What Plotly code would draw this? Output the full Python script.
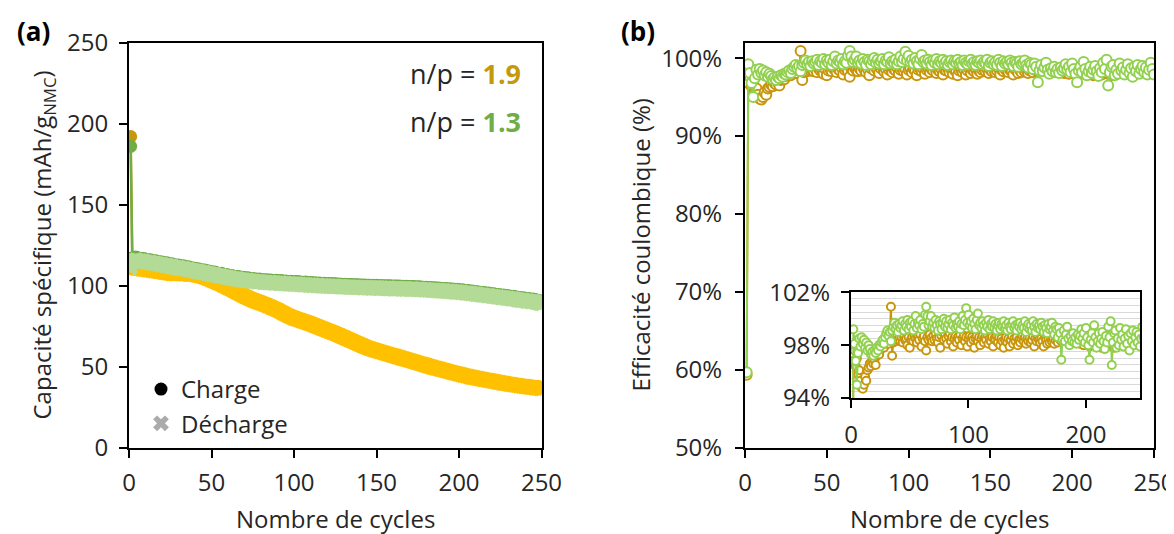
import plotly.graph_objects as go

# ---------------- data ----------------
cycles = list(range(1, 251))

# n/p = 1.9 : specific capacity (mAh/g NMC)
cap_charge_np19 = [
    192.0, 115.3, 115.6, 115.9, 116.0, 116.2, 115.8, 116.0, 116.1, 115.8,
    115.5, 115.2, 115.0, 114.6, 114.2, 113.8, 113.2, 112.7, 112.3, 111.9,
    111.6, 111.2, 110.9, 110.6, 110.2, 109.9, 109.8, 109.4, 109.3, 109.2,
    109.2, 109.2, 109.0, 106.6, 110.8, 108.9, 108.7, 108.4, 108.2, 108.0,
    107.8, 107.5, 107.3, 107.0, 106.7, 106.4, 106.0, 105.6, 105.2, 104.7,
    104.3, 103.9, 103.4, 103.0, 102.5, 102.0, 101.5, 101.0, 100.5, 100.0,
    99.5, 99.0, 98.4, 97.9, 97.4, 96.9, 96.3, 95.8, 95.2, 94.6,
    94.1, 93.7, 93.2, 92.7, 92.3, 91.9, 91.5, 91.1, 90.8, 90.4,
    90.0, 89.6, 89.2, 88.8, 88.4, 87.9, 87.4, 86.9, 86.5, 86.0,
    85.5, 84.9, 84.4, 83.8, 83.3, 82.8, 82.3, 81.9, 81.4, 81.0,
    80.7, 80.3, 80.0, 79.6, 79.3, 78.9, 78.6, 78.2, 77.9, 77.5,
    77.1, 76.7, 76.3, 75.8, 75.4, 75.0, 74.6, 74.2, 73.8, 73.4,
    73.0, 72.6, 72.2, 71.8, 71.4, 71.0, 70.5, 70.1, 69.6, 69.2,
    68.7, 68.3, 67.8, 67.4, 66.9, 66.5, 66.0, 65.5, 65.0, 64.6,
    64.1, 63.7, 63.3, 62.8, 62.4, 62.1, 61.8, 61.4, 61.1, 60.8,
    60.5, 60.2, 59.9, 59.5, 59.2, 58.9, 58.6, 58.3, 58.0, 57.7,
    57.4, 57.1, 56.8, 56.5, 56.2, 55.9, 55.6, 55.3, 55.0, 54.7,
    54.4, 54.1, 53.8, 53.5, 53.2, 52.9, 52.6, 52.3, 52.0, 51.7,
    51.4, 51.1, 50.8, 50.5, 50.2, 49.9, 49.7, 49.4, 49.2, 48.9,
    48.6, 48.3, 48.1, 47.8, 47.5, 47.2, 47.0, 46.7, 46.5, 46.2,
    46.0, 45.7, 45.5, 45.2, 45.0, 44.8, 44.5, 44.3, 44.1, 43.9,
    43.7, 43.5, 43.3, 43.1, 42.9, 42.7, 42.5, 42.3, 42.2, 42.0,
    41.8, 41.6, 41.4, 41.2, 41.0, 40.8, 40.6, 40.5, 40.3, 40.1,
    39.9, 39.8, 39.6, 39.5, 39.3, 39.2, 39.0, 38.9, 38.7, 38.6,
    38.5, 38.3, 38.2, 38.1, 37.9, 37.8, 37.7, 37.6, 37.4, 37.3,
]
cap_discharge_np19 = [
    114.0, 111.5, 111.2, 111.0, 110.8, 110.7, 110.4, 110.3, 110.2, 110.0,
    109.8, 109.9, 109.6, 109.4, 109.3, 109.2, 108.9, 108.8, 108.7, 108.5,
    108.3, 108.2, 108.0, 107.9, 107.7, 107.5, 107.6, 107.4, 107.5, 107.5,
    107.6, 107.7, 107.5, 107.7, 107.6, 107.4, 107.3, 107.1, 107.0, 106.8,
    106.6, 106.3, 106.1, 105.8, 105.5, 105.2, 104.8, 104.4, 104.0, 103.5,
    103.1, 102.7, 102.2, 101.8, 101.3, 100.8, 100.3, 99.8, 99.3, 98.8,
    98.3, 97.8, 97.2, 96.7, 96.2, 95.7, 95.1, 94.6, 94.0, 93.5,
    93.0, 92.6, 92.1, 91.6, 91.2, 90.8, 90.4, 90.0, 89.7, 89.3,
    88.9, 88.5, 88.1, 87.7, 87.3, 86.8, 86.4, 85.9, 85.5, 85.0,
    84.5, 83.9, 83.4, 82.8, 82.3, 81.8, 81.3, 80.9, 80.4, 80.0,
    79.7, 79.3, 79.0, 78.6, 78.3, 77.9, 77.6, 77.2, 76.9, 76.5,
    76.1, 75.7, 75.3, 74.9, 74.5, 74.1, 73.7, 73.3, 72.9, 72.5,
    72.1, 71.7, 71.3, 70.9, 70.5, 70.1, 69.6, 69.2, 68.7, 68.3,
    67.8, 67.4, 66.9, 66.5, 66.0, 65.6, 65.1, 64.7, 64.2, 63.8,
    63.3, 62.9, 62.5, 62.0, 61.6, 61.3, 61.0, 60.6, 60.3, 60.0,
    59.7, 59.4, 59.1, 58.8, 58.5, 58.2, 57.9, 57.6, 57.3, 57.0,
    56.7, 56.4, 56.1, 55.8, 55.5, 55.2, 54.9, 54.6, 54.3, 54.0,
    53.7, 53.4, 53.1, 52.8, 52.5, 52.2, 51.9, 51.6, 51.3, 51.0,
    50.7, 50.4, 50.1, 49.8, 49.5, 49.2, 49.0, 48.7, 48.5, 48.2,
    47.9, 47.6, 47.4, 47.1, 46.8, 46.5, 46.3, 46.0, 45.8, 45.5,
    45.3, 45.0, 44.8, 44.5, 44.3, 44.1, 43.8, 43.6, 43.4, 43.2,
    43.0, 42.8, 42.6, 42.4, 42.2, 42.0, 41.8, 41.6, 41.5, 41.3,
    41.1, 40.9, 40.7, 40.5, 40.3, 40.1, 39.9, 39.8, 39.6, 39.4,
    39.2, 39.1, 38.9, 38.8, 38.6, 38.5, 38.3, 38.2, 38.0, 37.9,
    37.8, 37.6, 37.5, 37.4, 37.2, 37.1, 37.0, 36.9, 36.7, 36.6,
]

# n/p = 1.3 : specific capacity (mAh/g NMC)
cap_charge_np13 = [
    186.0, 117.2, 117.5, 117.8, 117.4, 117.0, 116.9, 116.6, 116.8, 116.3,
    116.1, 115.9, 116.0, 115.6, 115.4, 115.5, 115.1, 114.9, 114.6, 114.7,
    114.3, 114.0, 114.2, 113.8, 113.5, 113.6, 113.2, 112.9, 112.7, 112.8,
    112.4, 112.1, 112.3, 111.9, 111.6, 111.7, 111.3, 111.0, 110.9, 110.6,
    110.4, 110.5, 110.1, 109.9, 109.6, 109.7, 109.3, 109.1, 108.9, 108.6,
    108.4, 108.5, 108.1, 107.8, 107.6, 107.7, 107.3, 107.0, 106.9, 106.6,
    106.4, 106.3, 106.0, 105.9, 105.7, 105.8, 105.4, 105.2, 105.3, 105.0,
    104.8, 104.9, 104.6, 104.5, 104.3, 104.4, 104.1, 104.0, 104.2, 103.9,
    103.8, 103.6, 103.7, 103.5, 103.4, 103.6, 103.3, 103.2, 103.4, 103.1,
    103.0, 103.2, 102.9, 102.8, 103.0, 102.7, 102.6, 102.8, 102.5, 102.6,
    102.5, 102.6, 102.3, 102.4, 102.2, 102.1, 102.3, 102.0, 101.9, 102.1,
    101.8, 101.9, 101.7, 101.6, 101.8, 101.5, 101.4, 101.6, 101.3, 101.4,
    101.2, 101.4, 101.1, 101.2, 101.3, 101.0, 101.1, 100.9, 101.0, 100.8,
    100.9, 100.7, 100.8, 100.6, 100.8, 100.5, 100.7, 100.5, 100.6, 100.4,
    100.5, 100.3, 100.5, 100.2, 100.4, 100.3, 100.1, 100.3, 100.2, 100.3,
    100.1, 100.2, 100.0, 100.1, 99.9, 100.0, 99.8, 100.0, 99.9, 99.7,
    99.8, 99.9, 99.7, 99.8, 99.6, 99.7, 99.5, 99.7, 99.6, 99.4,
    99.5, 99.6, 99.4, 99.3, 99.4, 99.2, 99.3, 99.1, 99.0, 99.1,
    98.9, 99.0, 98.8, 98.7, 98.8, 98.6, 98.5, 98.6, 98.4, 98.3,
    98.4, 98.2, 98.1, 98.2, 97.9, 98.0, 97.8, 97.7, 97.8, 97.6,
    97.4, 97.5, 97.2, 97.0, 97.1, 96.9, 96.7, 96.8, 96.5, 96.3,
    96.4, 96.1, 96.0, 95.8, 95.9, 95.6, 95.4, 95.5, 95.2, 95.0,
    95.1, 94.8, 94.6, 94.7, 94.4, 94.2, 94.3, 94.0, 93.8, 93.9,
    93.6, 93.4, 93.5, 93.2, 93.0, 92.9, 92.7, 92.5, 92.6, 92.3,
    92.1, 92.2, 91.9, 91.7, 91.8, 91.5, 91.3, 91.0, 90.8, 90.5,
]
cap_discharge_np13 = [
    111.0, 114.6, 115.3, 115.9, 115.7, 115.4, 115.3, 115.0, 115.2, 114.7,
    114.5, 114.3, 114.5, 114.0, 113.8, 114.0, 113.5, 113.4, 113.0, 113.2,
    112.7, 112.5, 112.6, 112.3, 111.9, 112.1, 111.6, 111.4, 111.1, 111.3,
    110.8, 110.6, 110.7, 110.4, 110.0, 110.2, 109.7, 109.5, 109.3, 109.1,
    108.8, 109.0, 108.5, 108.4, 108.0, 108.2, 107.7, 107.6, 107.3, 107.1,
    106.8, 107.0, 106.5, 106.3, 106.0, 106.2, 105.7, 105.5, 105.3, 105.1,
    104.8, 104.8, 104.4, 104.4, 104.1, 104.3, 103.8, 103.7, 103.7, 103.5,
    103.2, 103.4, 103.0, 103.0, 102.7, 102.9, 102.5, 102.5, 102.6, 102.4,
    102.2, 102.1, 102.1, 102.0, 101.8, 102.1, 101.7, 101.7, 101.8, 101.6,
    101.4, 101.7, 101.3, 101.3, 101.4, 101.2, 101.0, 101.3, 100.9, 101.1,
    100.9, 101.1, 100.7, 100.9, 100.6, 100.6, 100.7, 100.5, 100.3, 100.6,
    100.2, 100.4, 100.1, 100.1, 100.2, 100.0, 99.8, 100.1, 99.7, 99.9,
    99.6, 99.9, 99.5, 99.7, 99.7, 99.5, 99.5, 99.4, 99.4, 99.3,
    99.3, 99.2, 99.2, 99.1, 99.2, 99.0, 99.1, 99.0, 99.0, 98.9,
    98.9, 98.8, 98.9, 98.7, 98.8, 98.8, 98.5, 98.8, 98.6, 98.8,
    98.5, 98.7, 98.4, 98.6, 98.3, 98.5, 98.2, 98.5, 98.3, 98.2,
    98.2, 98.4, 98.1, 98.3, 98.0, 98.2, 97.9, 98.2, 98.0, 97.9,
    97.9, 98.1, 97.8, 97.8, 97.8, 97.7, 97.7, 97.6, 97.4, 97.6,
    97.3, 97.5, 97.2, 97.2, 97.2, 97.1, 96.9, 97.1, 96.8, 96.8,
    96.8, 96.7, 96.5, 96.7, 96.3, 96.5, 96.2, 96.2, 96.2, 96.1,
    95.8, 96.0, 95.6, 95.5, 95.5, 95.4, 95.1, 95.3, 94.9, 94.8,
    94.8, 94.6, 94.4, 94.3, 94.3, 94.1, 93.8, 94.0, 93.6, 93.5,
    93.5, 93.3, 93.0, 93.2, 92.8, 92.7, 92.7, 92.5, 92.2, 92.4,
    92.0, 91.9, 91.9, 91.7, 91.4, 91.4, 91.1, 91.0, 91.0, 90.8,
    90.5, 90.7, 90.3, 90.2, 90.2, 90.0, 89.7, 89.5, 89.2, 89.0,
]

# coulombic efficiency (%)
ce_np19 = [
    59.4, 96.8, 97.6, 96.4, 97.0, 95.8, 96.1, 95.3, 94.8, 94.7,
    95.0, 95.6, 95.3, 96.1, 96.3, 96.6, 96.4, 96.8, 96.6, 96.9,
    96.5, 97.2, 97.5, 97.3, 97.7, 97.9, 98.0, 97.8, 98.2, 98.1,
    98.3, 98.1, 98.4, 100.9, 97.2, 98.2, 98.5, 98.3, 98.6, 98.4,
    98.5, 98.3, 98.6, 98.2, 98.7, 98.4, 98.5, 98.0, 98.6, 97.8,
    98.4, 98.6, 98.3, 98.7, 98.5, 98.2, 98.6, 98.4, 98.8, 97.9,
    98.5, 98.7, 98.3, 97.6, 98.6, 98.4, 98.8, 98.5, 98.3, 98.7,
    98.4, 98.9, 98.5, 98.2, 98.6, 97.8, 98.7, 99.0, 98.4, 98.8,
    98.5, 98.1, 98.7, 98.9, 98.3, 98.6, 97.9, 98.5, 98.7, 98.2,
    98.6, 98.4, 98.8, 98.0, 98.5, 98.7, 98.3, 98.6, 97.9, 98.5,
    98.7, 98.2, 98.6, 98.4, 97.8, 98.5, 98.7, 98.3, 98.6, 98.0,
    98.5, 98.7, 98.2, 98.6, 98.4, 98.8, 98.1, 98.5, 98.3, 98.6,
    97.9, 98.5, 98.4, 98.7, 98.2, 98.6, 98.0, 98.5, 98.3, 97.8,
    98.4, 98.6, 98.2, 98.5, 97.9, 98.4, 98.7, 98.1, 98.5, 98.3,
    98.6, 98.0, 98.4, 98.2, 98.5, 98.7, 98.3, 98.6, 98.1, 98.5,
    98.3, 98.6, 98.2, 98.4, 98.7, 97.9, 98.5, 98.3, 98.6, 98.4,
    98.2, 98.5, 98.3, 97.9, 98.6, 98.4, 98.1, 98.5, 98.2, 98.6,
    98.3, 98.5, 98.1, 98.4, 98.6, 98.2, 98.5, 98.7, 98.3, 98.8,
    98.5, 98.6, 98.4, 98.7, 98.3, 98.5, 98.6, 98.2, 98.4, 98.6,
    98.3, 98.5, 98.2, 98.4, 98.1, 98.3, 98.5, 98.0, 98.4, 98.2,
    98.5, 98.3, 97.9, 98.4, 98.2, 98.6, 98.0, 98.3, 98.5, 98.1,
    98.4, 98.2, 97.8, 98.3, 98.5, 98.1, 98.4, 97.9, 98.3, 98.2,
    98.5, 98.0, 98.3, 97.8, 98.4, 98.2, 98.6, 98.3, 98.1, 98.4,
    98.2, 98.5, 98.3, 98.6, 98.4, 98.7, 98.5, 98.3, 98.6, 98.4,
    98.7, 98.5, 98.8, 98.6, 98.4, 98.7, 98.9, 98.6, 98.8, 98.9,
]
ce_np13 = [
    59.7, 99.2, 98.1, 96.8, 95.0, 97.4, 98.5, 97.9, 98.6, 98.1,
    98.4, 97.8, 98.2, 97.6, 98.0, 97.7, 97.3, 97.5, 97.2, 97.6,
    97.4, 97.8, 97.6, 98.0, 97.9, 98.2, 98.4, 98.1, 98.6, 98.9,
    99.1, 98.7, 99.0, 98.3, 99.1, 99.4, 99.7, 99.2, 99.5, 99.0,
    99.6, 99.3, 99.5, 99.8, 99.1, 99.6, 99.4, 99.9, 99.2, 99.7,
    99.4, 99.8, 99.1, 99.6, 100.2, 99.3, 99.7, 99.5, 99.9, 99.2,
    99.6, 99.4, 100.3, 100.9, 100.2, 99.5, 99.8, 100.2, 99.4, 99.7,
    99.3, 99.9, 99.5, 99.1, 99.8, 99.6, 99.2, 99.7, 100.0, 99.4,
    99.8, 99.3, 99.6, 99.9, 99.2, 99.7, 99.5, 100.1, 99.3, 99.6,
    99.4, 99.8, 99.2, 99.6, 100.2, 99.5, 99.9, 100.8, 99.7, 100.3,
    99.5, 99.8, 99.3, 100.0, 99.6, 99.2, 99.9, 100.4, 99.5, 99.7,
    99.3, 99.8, 99.5, 99.1, 99.7, 99.4, 99.9, 99.2, 99.6, 99.4,
    99.8, 99.3, 99.6, 99.1, 99.5, 99.7, 99.2, 99.6, 99.4, 99.8,
    99.3, 99.5, 99.1, 99.7, 99.4, 99.2, 99.6, 99.8, 99.3, 99.5,
    99.1, 99.6, 99.4, 99.7, 99.2, 99.5, 99.3, 99.8, 99.0, 99.4,
    99.6, 99.2, 99.5, 99.1, 99.8, 99.4, 99.0, 99.6, 99.3, 99.5,
    99.2, 99.7, 99.4, 99.0, 99.5, 99.3, 98.9, 99.6, 99.2, 99.4,
    99.7, 99.1, 98.8, 99.4, 99.2, 98.6, 99.3, 98.9, 96.9, 98.4,
    99.1, 98.3, 98.8, 99.4, 98.5, 98.0, 98.7, 98.3, 98.9, 98.2,
    98.6, 98.1, 98.8, 98.4, 98.7, 99.2, 98.5, 98.9, 98.2, 99.3,
    98.6, 98.0, 96.9, 98.4, 98.9, 98.2, 99.5, 98.6, 97.8, 98.3,
    98.9, 98.1, 98.5, 99.0, 98.3, 97.7, 98.7, 98.2, 99.4, 98.6,
    99.8, 96.5, 98.2, 98.9, 99.1, 97.8, 98.5, 98.0, 99.3, 98.4,
    98.8, 97.9, 98.5, 99.2, 98.1, 98.7, 97.6, 98.9, 98.3, 99.1,
    98.0, 98.6, 99.0, 98.2, 98.8, 97.9, 98.5, 99.4, 98.6, 97.9,
]

x_ticks_main = [0, 50, 100, 150, 200, 250]
cap_ticks = [0, 50, 100, 150, 200, 250]
ce_ticks = [50, 60, 70, 80, 90, 100]
ce_tick_labels = ["50%", "60%", "70%", "80%", "90%", "100%"]
inset_x_ticks = [0, 100, 200]
inset_y_ticks = [94, 98, 102]
inset_y_labels = ["94%", "98%", "102%"]

# ---------------- colours / styling ----------------
GOLD_DARK = "#C49A0C"
GOLD = "#FFC000"
GREEN_DARK = "#70AD47"
GREEN_LIGHT = "#B3DB96"
CE_GOLD = "#C8960C"
CE_GREEN = "#92D050"
FONT = "Open Sans"
TXT = "#262626"

# the page body adds an 8 px margin, so the figure is drawn 8 px in
OFF = 8
W, H = 1174 - OFF, 534 - OFF


def fx(p):
    return (p - OFF) / W


def fy(p):
    return 1 - (p - OFF) / H


fig = go.Figure()

# panel (a)
for y, col, sym, sz in [
    (cap_charge_np19, GOLD_DARK, "circle", 13),
    (cap_discharge_np19, GOLD, "x", 14),
    (cap_charge_np13, GREEN_DARK, "circle", 13),
    (cap_discharge_np13, GREEN_LIGHT, "x", 14),
]:
    fig.add_trace(go.Scatter(
        x=cycles, y=y, mode="lines+markers", xaxis="x", yaxis="y",
        line=dict(color=col, width=2.5),
        marker=dict(symbol=sym, size=sz, color=col, line=dict(width=0)),
        showlegend=False, hoverinfo="skip"))

# panel (b) main + inset
for y, col in [(ce_np19, CE_GOLD), (ce_np13, CE_GREEN)]:
    fig.add_trace(go.Scatter(
        x=cycles, y=y, mode="lines+markers", xaxis="x2", yaxis="y2",
        line=dict(color=col, width=2),
        marker=dict(symbol="circle", size=10, color="white", line=dict(color=col, width=2)),
        showlegend=False, hoverinfo="skip"))
for y, col in [(ce_np19, CE_GOLD), (ce_np13, CE_GREEN)]:
    fig.add_trace(go.Scatter(
        x=cycles, y=y, mode="lines+markers", xaxis="x3", yaxis="y3",
        line=dict(color=col, width=2),
        marker=dict(symbol="circle", size=8, color="white", line=dict(color=col, width=2)),
        showlegend=False, hoverinfo="skip"))

# legend entries (panel a)
fig.add_trace(go.Scatter(x=[None], y=[None], mode="markers", name="Charge",
                         marker=dict(symbol="circle", size=13, color="black"),
                         xaxis="x", yaxis="y"))
fig.add_trace(go.Scatter(x=[None], y=[None], mode="markers", name="Décharge",
                         marker=dict(symbol="x", size=14, color="#ABABAB", line=dict(width=0)),
                         xaxis="x", yaxis="y"))

axis_common = dict(showline=True, linecolor="black", linewidth=2, mirror=True,
                   ticks="outside", ticklen=8, tickwidth=2, tickcolor="black",
                   showgrid=False, zeroline=False, automargin=False,
                   ticklabeloverflow="allow", layer="above traces",
                   tickfont=dict(family=FONT, size=24, color=TXT))

ya_dom = [fy(448), fy(42.5)]


def label(text, x, y, size=24, color=TXT, angle=0, xanchor="center", yanchor="middle"):
    return dict(text=text, x=fx(x), y=fy(y), xref="paper", yref="paper",
                xanchor=xanchor, yanchor=yanchor, textangle=angle, showarrow=False,
                font=dict(family=FONT, size=size, color=color))


fig.update_layout(
    width=W, height=H,
    margin=dict(l=0, r=0, t=0, b=0),
    paper_bgcolor="white", plot_bgcolor="white",
    font=dict(family=FONT, size=24, color=TXT),
    xaxis=dict(domain=[fx(129), fx(541.5)], range=[0, 250], tickvals=x_ticks_main,
               anchor="y", ticklabelstandoff=4, **axis_common),
    yaxis=dict(domain=ya_dom, range=[0, 250], tickvals=cap_ticks, anchor="x",
               ticklabelstandoff=6, **axis_common),
    xaxis2=dict(domain=[fx(745), fx(1154)], range=[0, 250], tickvals=x_ticks_main,
                anchor="y2", ticklabelstandoff=4, **axis_common),
    yaxis2=dict(domain=ya_dom, range=[50, 102], tickvals=ce_ticks, ticktext=ce_tick_labels,
                anchor="x2", ticklabelstandoff=8, **axis_common),
    xaxis3=dict(domain=[fx(851), fx(1140)], range=[0, 246], tickvals=inset_x_ticks,
                anchor="y3", ticklabelstandoff=6, **axis_common),
    yaxis3=dict(domain=[fy(398), fy(292.3)], range=[94, 102], tickvals=inset_y_ticks,
                ticktext=inset_y_labels, anchor="x3", ticklabelstandoff=6,
                **{**axis_common, "showgrid": True, "gridcolor": "#D0D0D0", "gridwidth": 1},
                minor=dict(tick0=94, dtick=0.5, showgrid=True, gridcolor="#D9D9D9",
                           gridwidth=1, ticks="")),
    legend=dict(x=fx(141), y=fy(367), xanchor="left", yanchor="top",
                bgcolor="rgba(0,0,0,0)", font=dict(family=FONT, size=24, color=TXT),
                itemwidth=30, tracegroupgap=0),
    annotations=[
        label("<b>(a)</b>", 33, 31, size=26, color="black"),
        label("<b>(b)</b>", 638, 31, size=26, color="black"),
        label(f"n/p = <b><span style='color:{GOLD_DARK}'>1.9</span></b>", 523, 74,
              size=27, xanchor="right"),
        label(f"n/p = <b><span style='color:{GREEN_DARK}'>1.3</span></b>", 523, 121,
              size=27, xanchor="right"),
        label("Nombre de cycles", 335, 518),
        label("Nombre de cycles", 949.5, 518),
        label("Capacité spécifique (mAh/g<sub>NMC</sub>)", 42, 245.5, angle=-90),
        label("Efficacité coulombique (%)", 640, 245.5, angle=-90),
    ],
)

fig.write_html("out.html")
